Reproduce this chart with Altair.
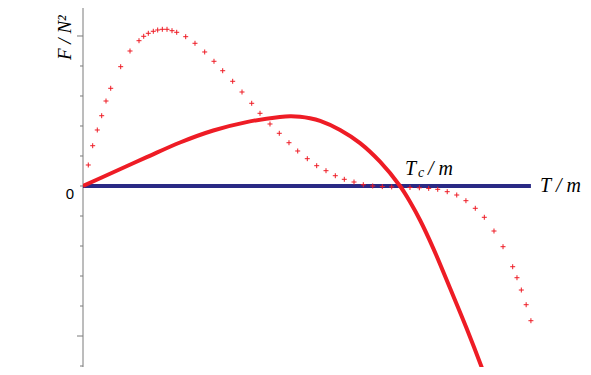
import altair as alt
import pandas as pd

# Solid curve (T/m, F/N^2)
solid_x = [0.0, 0.0956, 0.201, 0.306, 0.411, 0.516, 0.621, 0.653, 0.685, 0.716, 0.748, 0.811, 0.874,
           0.937, 1.0, 1.0315, 1.063, 1.105, 1.158, 1.210, 1.263, 1.284]
solid_y = [0.0, 0.46, 0.96, 1.45, 1.85, 2.13, 2.30, 2.325, 2.31, 2.26, 2.17, 1.87, 1.43,
           0.81, 0.0, -0.523, -1.133, -2.077, -3.41, -4.743, -6.19, -6.8]

# Dotted (+) curve
dot_x = [0.0167, 0.0306, 0.0451, 0.0590, 0.0726, 0.0874, 0.1189, 0.1483, 0.1767, 0.1915, 0.206, 0.2218,
         0.2356, 0.2502, 0.265, 0.2808, 0.2956, 0.324, 0.3533, 0.3839, 0.4132, 0.4407, 0.4722, 0.5016,
         0.5322, 0.5584, 0.5899, 0.6192, 0.6498, 0.6773, 0.7076, 0.7372, 0.7666, 0.7959, 0.8243, 0.8549,
         0.8842, 0.9139, 0.9442, 0.9738, 1.003, 1.0315, 1.061, 1.0905, 1.119, 1.149, 1.179, 1.208, 1.2375,
         1.266, 1.2965, 1.325, 1.3555, 1.369, 1.3827, 1.398, 1.413]
dot_y = [0.70, 1.343, 1.867, 2.343, 2.833, 3.257, 3.977, 4.50, 4.843, 4.99, 5.09, 5.157,
         5.20, 5.223, 5.223, 5.177, 5.123, 4.977, 4.757, 4.467, 4.157, 3.843, 3.49, 3.133,
         2.757, 2.423, 2.067, 1.757, 1.443, 1.167, 0.91, 0.677, 0.51, 0.343, 0.223, 0.133,
         0.043, 0.0, -0.02, -0.03, -0.04, -0.05, -0.06, -0.08, -0.11, -0.19, -0.30, -0.49, -0.743,
         -1.043, -1.50, -2.023, -2.69, -3.057, -3.467, -3.957, -4.49]

# Zero line
zero_x = [0.0, 1.413]
zero_y = [0.0, 0.0]

minor_ticks = [-6, -4, -3, -2, -1, 0, 1, 2, 3, 4]
major_ticks = [-5, 5]

W, H = 500, 359
XMAX = W / 317
YMIN, YMAX = -6.033, 5.933

RED = "#ee1c25"
BLUE = "#2a2a85"
GRAY = "#7a7a7a"

xs = alt.Scale(domain=[0, XMAX], nice=False, zero=False)
ys = alt.Scale(domain=[YMIN, YMAX], nice=False, zero=False)

solid_df = pd.DataFrame({"x": solid_x, "y": solid_y})
dot_df = pd.DataFrame({"x": dot_x, "y": dot_y})
zero_df = pd.DataFrame({"x": zero_x, "y": zero_y})
minor_df = pd.DataFrame({"y": minor_ticks})
major_df = pd.DataFrame({"y": major_ticks})

X = lambda: alt.X("x:Q", scale=xs, axis=None)
Y = lambda: alt.Y("y:Q", scale=ys, axis=None)

yaxis_line = alt.Chart(pd.DataFrame({"a": [0]})).mark_rule(color=GRAY, strokeWidth=1).encode(
    x=alt.value(0), y=alt.value(0), y2=alt.value(H))

minor = alt.Chart(minor_df).mark_rule(color=GRAY, strokeWidth=1).encode(
    x=alt.value(0), x2=alt.value(-3), y=Y())
major = alt.Chart(major_df).mark_rule(color=GRAY, strokeWidth=1).encode(
    x=alt.value(0), x2=alt.value(-6), y=Y())

zero_line = alt.Chart(zero_df).mark_line(color=BLUE, strokeWidth=4).encode(x=X(), y=Y())

solid = alt.Chart(solid_df).mark_line(color=RED, strokeWidth=4, interpolate="catmull-rom", clip=True).encode(
    x=X(), y=Y())

dots = alt.Chart(dot_df).mark_point(shape="M-1,0H1M0,-1V1", size=25, filled=False,
                                     color=RED, strokeWidth=1, opacity=1).encode(x=X(), y=Y())

zero_lbl = alt.Chart(pd.DataFrame({"y": [0], "t": ["0"]})).mark_text(
    align="right", baseline="middle", dx=-9, dy=8, font="Liberation Sans", fontSize=15, color="black").encode(
    x=alt.value(0), y=Y(), text="t:N")

ann_df = pd.DataFrame({
    "x": [1.442, 1.016, 1.057, 1.088],
    "y": [-0.2, 0.367, 0.30, 0.367],
    "t": ["T / m", "T", "c", "/ m"],
    "s": [20, 20, 14, 20],
})
ann = alt.Chart(ann_df).mark_text(
    align="left", baseline="alphabetic", font="Liberation Serif", fontStyle="italic", color="black").encode(
    x=X(), y=Y(), text="t:N", size=alt.Size("s:Q", scale=None, legend=None))

title = alt.Chart(pd.DataFrame({"t": ["F / N²"]})).mark_text(
    align="left", baseline="alphabetic", angle=270, font="Liberation Serif", fontStyle="italic",
    fontSize=19, color="black").encode(x=alt.value(-12), y=alt.value(52), text="t:N")

chart = alt.layer(yaxis_line, minor, major, zero_line, solid, dots, zero_lbl, ann, title).properties(
    width=W, height=H,
    autosize=alt.AutoSizeParams(type="none"),
    padding={"left": 75, "top": 0, "right": 0, "bottom": 0},
).configure_view(stroke=None)

chart.save("out.html", embed_options={"renderer": "svg", "actions": False})
